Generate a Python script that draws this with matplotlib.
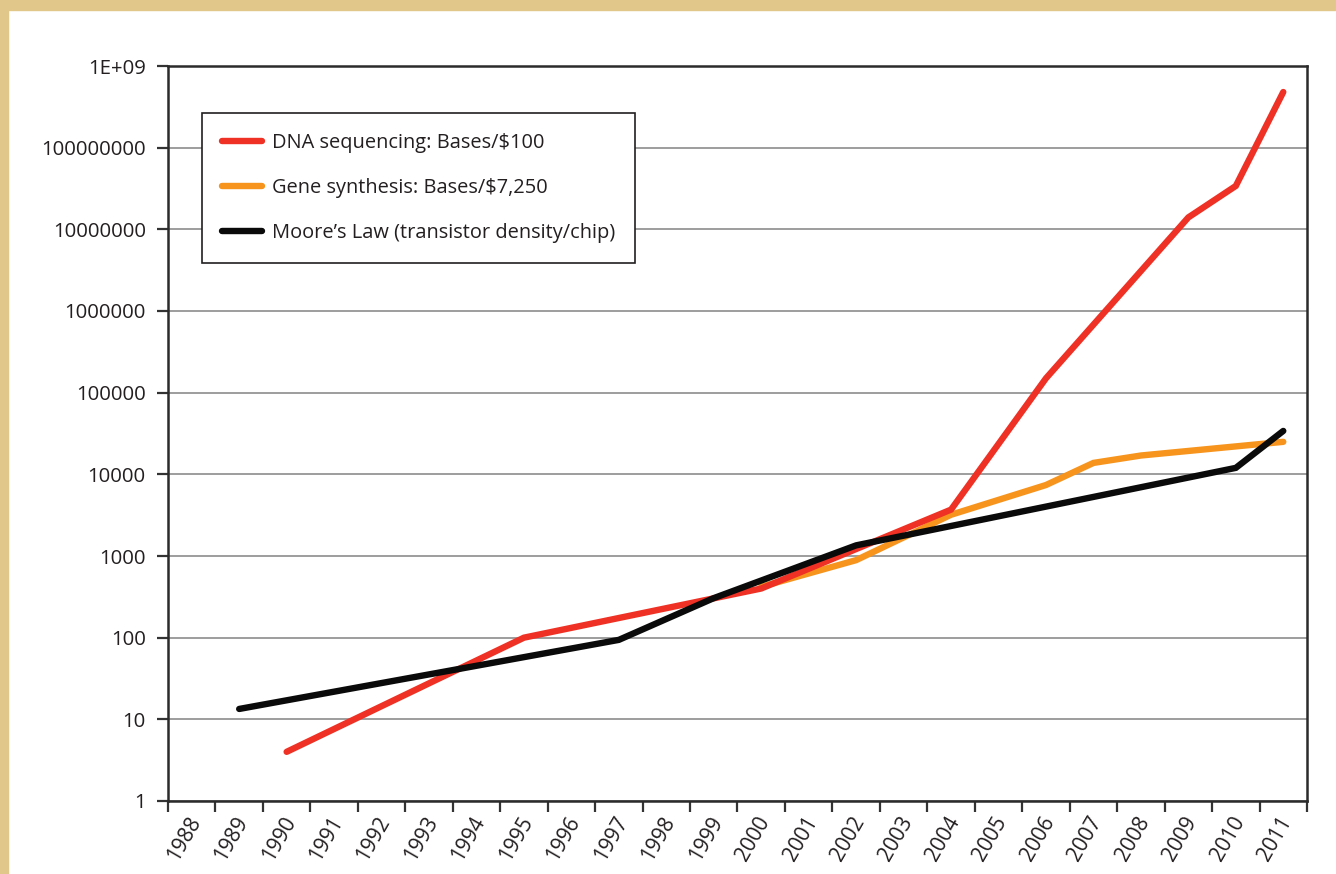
import numpy as np
import matplotlib
matplotlib.use("Agg")
import matplotlib.pyplot as plt
import matplotlib.transforms as mtransforms
from matplotlib.patches import Rectangle

plt.rcParams['font.family'] = ['Open Sans', 'DejaVu Sans']

# categorie (anni) sull'asse x
years = list(range(1988, 2012))

# DNA sequencing: Bases/$100
dna_years = [1990, 1995, 2000, 2004, 2006, 2009, 2010, 2011]
dna_vals = [4, 100, 400, 3700, 150000, 14000000, 34000000, 480000000]

# Gene synthesis: Bases/$7,250
gene_years = [2000, 2002, 2004, 2006, 2007, 2008, 2011]
gene_vals = [420, 890, 3200, 7400, 13800, 17000, 25000]

# Moore's Law (transistor density/chip)
moore_years = [1989, 1997, 1999, 2002, 2010, 2011]
moore_vals = [13.4, 94, 305, 1350, 12000, 34000]

ytick_vals = [1, 10, 100, 1000, 10000, 100000, 1000000, 10000000, 100000000, 1000000000]
ytick_labels = ['1', '10', '100', '1000', '10000', '100000', '1000000',
                '10000000', '100000000', '1E+09']

fig = plt.figure(figsize=(13.36, 8.74), dpi=100, facecolor='white')
# bordo color sabbia
fig.patches.append(Rectangle((0, 1 - 10/874), 1, 10/874, transform=fig.transFigure,
                             color='#E2C78A', zorder=0))
fig.patches.append(Rectangle((0, 0), 8/1336, 1, transform=fig.transFigure,
                             color='#E2C78A', zorder=0))

ax = fig.add_axes([168/1336, 1 - 801/874, (1307 - 168)/1336, (801 - 66)/874])

idx = {y: i for i, y in enumerate(years)}
lw = 4.6
ax.plot([idx[y] for y in dna_years], dna_vals, color='#EE3124', lw=lw,
        solid_capstyle='round', solid_joinstyle='miter', label='DNA sequencing: Bases/$100', zorder=3)
ax.plot([idx[y] for y in gene_years], gene_vals, color='#F7941D', lw=lw,
        solid_capstyle='round', solid_joinstyle='miter', label='Gene synthesis: Bases/$7,250', zorder=2)
ax.plot([idx[y] for y in moore_years], moore_vals, color='#0A0A0A', lw=lw,
        solid_capstyle='round', solid_joinstyle='miter',
        label='Moore\u2019s Law (transistor density/chip)', zorder=4)

ax.set_yscale('log')
ax.set_ylim(1, 1e9)
ax.set_xlim(-0.5, len(years) - 0.5)

ax.set_yticks(ytick_vals)
ax.set_yticklabels(ytick_labels)
ax.yaxis.set_minor_locator(matplotlib.ticker.NullLocator())
ax.tick_params(axis='y', which='major', length=8, width=1.6, color='#333333',
               labelsize=14.7, labelcolor='#231F20', pad=8)

ax.set_xticks(range(len(years)))
ax.set_xticklabels([str(y) for y in years], rotation=60, ha='right',
                   rotation_mode='anchor', va='center')
ax.set_xticks(np.arange(-0.5, len(years)), minor=True)
ax.tick_params(axis='x', which='major', length=0, labelsize=15,
               labelcolor='#231F20', pad=12)
ax.tick_params(axis='x', which='minor', length=8, width=1.6, color='#333333')
shift = mtransforms.ScaledTranslation(4/100, 0, fig.dpi_scale_trans)
for lab in ax.get_xticklabels():
    lab.set_transform(lab.get_transform() + shift)

ax.grid(True, axis='y', which='major', color='#9D9D9D', lw=1.4)
ax.set_axisbelow(True)
for s in ax.spines.values():
    s.set_color('#2B2B2B')
    s.set_linewidth(1.8)

leg = ax.legend(loc='upper left', bbox_to_anchor=(0.030, 0.936), borderaxespad=0,
                fancybox=False, edgecolor='#231F20', fontsize=14.4,
                handlelength=2.0, handletextpad=0.5, labelspacing=1.25,
                borderpad=1.0, framealpha=1)
leg.get_frame().set_linewidth(1.2)
for t in leg.get_texts():
    t.set_color('#231F20')

fig.savefig('out.png', dpi=100, facecolor='white')
